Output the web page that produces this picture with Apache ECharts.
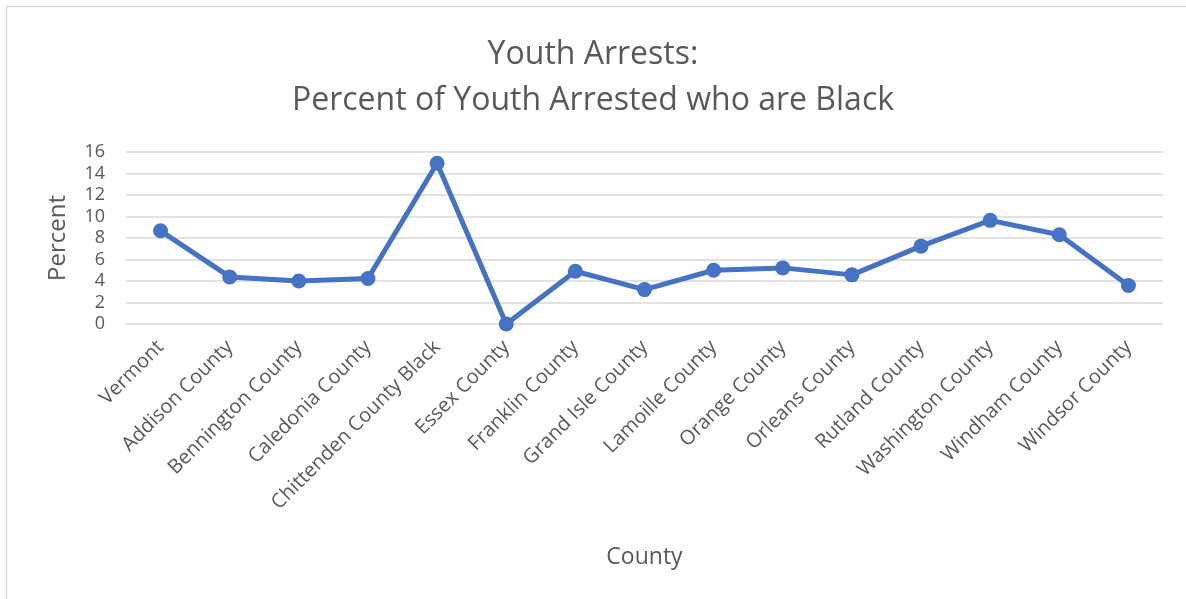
<!DOCTYPE html>
<html><head><meta charset="utf-8">
<script src="https://cdn.jsdelivr.net/npm/echarts@6/dist/echarts.min.js"></script>
<style>html,body{margin:0;padding:0;background:#fff}#c{width:1186px;height:599px}</style>
</head><body><div id="c"></div>
<script>
var categories = ["Vermont","Addison County","Bennington County","Caledonia County","Chittenden County Black","Essex County","Franklin County","Grand Isle County","Lamoille County","Orange County","Orleans County","Rutland County","Washington County","Windham County","Windsor County"];
var percentValues = [8.67, 4.38, 4.0, 4.23, 14.95, 0, 4.91, 3.2, 5.0, 5.22, 4.57, 7.24, 9.64, 8.3, 3.58];
var yTicks = [0, 2, 4, 6, 8, 10, 12, 14, 16];

var chart = echarts.init(document.getElementById('c'), null, {renderer: 'canvas'});
var font = 'Open Sans';
chart.setOption({
  backgroundColor: '#fff',
  animation: false,
  graphic: [{type: 'rect', shape: {x: 6.5, y: 6.5, width: 1200, height: 620}, style: {fill: 'none', stroke: '#d9d9d9', lineWidth: 1.5}, silent: true}],
  title: {
    text: 'Youth Arrests:\nPercent of Youth Arrested who are Black',
    left: 'center', top: 27, padding: [5, 0, 5, 14],
    textStyle: {fontFamily: font, fontSize: 32, fontWeight: 'normal', color: '#595959', lineHeight: 46}
  },
  grid: {left: 126, right: 23, top: 152, bottom: 275, containLabel: false},
  xAxis: {
    type: 'category', data: categories, boundaryGap: true,
    name: 'County', nameLocation: 'middle', nameGap: 222,
    nameTextStyle: {fontFamily: font, fontSize: 23, color: '#595959'},
    axisLine: {show: false}, axisTick: {show: false},
    axisLabel: {rotate: 45, interval: 0, fontFamily: font, fontSize: 20, color: '#595959', margin: 20}
  },
  yAxis: {
    type: 'value', min: 0, max: 16, interval: 2,
    name: 'Percent', nameLocation: 'middle', nameGap: 56, nameRotate: 90,
    nameTextStyle: {fontFamily: font, fontSize: 24, color: '#595959'},
    axisLine: {show: false}, axisTick: {show: false},
    axisLabel: {fontFamily: font, fontSize: 18, color: '#595959', margin: 21,
      formatter: function (v) { return yTicks.indexOf(v) >= 0 ? String(v) : ''; }},
    splitLine: {lineStyle: {color: '#d9d9d9', width: 1.5}}
  },
  series: [{
    type: 'line', data: percentValues,
    symbol: 'circle', symbolSize: 15,
    lineStyle: {color: '#4472C4', width: 5},
    itemStyle: {color: '#4472C4'}
  }]
});
</script></body></html>
